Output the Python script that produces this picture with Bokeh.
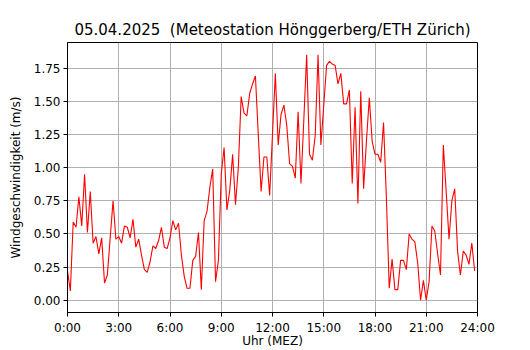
from bokeh.plotting import figure
from bokeh.models import FixedTicker, Range1d
from bokeh.embed import file_html
from bokeh.resources import INLINE

# 10-minute wind speed values (m/s), 00:00 .. 23:50
wind = [
    0.22, 0.07, 0.59, 0.55, 0.78, 0.56, 0.95, 0.51, 0.82, 0.43, 0.48, 0.35,
    0.47, 0.13, 0.19, 0.47, 0.75, 0.46, 0.48, 0.43, 0.56, 0.55, 0.47, 0.61,
    0.40, 0.46, 0.34, 0.23, 0.21, 0.29, 0.41, 0.39, 0.45, 0.55, 0.40, 0.39,
    0.47, 0.60, 0.53, 0.58, 0.34, 0.18, 0.09, 0.09, 0.30, 0.33, 0.51, 0.08,
    0.60, 0.67, 0.85, 0.99, 0.14, 0.30, 0.95, 1.15, 0.68, 0.83, 1.10, 0.72,
    1.00, 1.535, 1.41, 1.39, 1.56, 1.63, 1.69, 1.25, 0.82, 1.08, 1.08, 0.79,
    1.25, 1.71, 1.17, 1.40, 1.47, 1.32, 1.03, 1.01, 0.92, 1.42, 0.88, 1.36,
    1.85, 1.10, 1.055, 1.24, 1.85, 1.17, 1.47, 1.77, 1.80, 1.78, 1.77, 1.63,
    1.71, 1.48, 1.48, 1.585, 0.88, 1.455, 0.73, 1.575, 0.84, 1.20, 1.525, 1.20,
    1.10, 1.10, 1.04, 1.34, 0.77, 0.09, 0.31, 0.08, 0.08, 0.30, 0.30, 0.23,
    0.50, 0.46, 0.44, 0.28, 0.00, 0.15, 0.00, 0.14, 0.56, 0.52, 0.35, 0.19,
    1.17, 0.82, 0.46, 0.75, 0.84, 0.37, 0.19, 0.37, 0.34, 0.27, 0.43, 0.22,
]
hours = [i / 6 for i in range(len(wind))]

x_ticks = [0, 3, 6, 9, 12, 15, 18, 21, 24]
x_tick_labels = ["0:00", "3:00", "6:00", "9:00", "12:00", "15:00", "18:00", "21:00", "24:00"]
y_ticks = [0.0, 0.25, 0.5, 0.75, 1.0, 1.25, 1.5, 1.75]
y_tick_labels = ["0.00", "0.25", "0.50", "0.75", "1.00", "1.25", "1.50", "1.75"]

title_text = "05.04.2025\u00a0 (Meteostation Hönggerberg/ETH Zürich)"
x_label = "Uhr (MEZ)"
y_label = "Windgeschwindigkeit (m/s)"

FONT = "DejaVu Sans"

ymax = max(wind)
ymin = min(wind)
pad = (ymax - ymin) * 0.05

p = figure(
    width=530, height=350,
    output_backend="svg", toolbar_location=None,
    x_range=Range1d(0, 24), y_range=Range1d(ymin - pad, ymax + pad),
    min_border_left=67, min_border_right=53, min_border_top=42, min_border_bottom=37,
    title=title_text,
)

p.line(hours, wind, line_color="#ff0000", line_width=1.1)

p.title.text_font = FONT
p.title.text_font_size = "15px"
p.title.text_font_style = "normal"
p.title.text_color = "black"
p.title.align = "center"
p.title.standoff = 8

p.outline_line_color = "black"
p.outline_line_width = 1
p.outline_line_alpha = 1
p.background_fill_color = "white"
p.border_fill_color = "white"

for ax in (p.xaxis[0], p.yaxis[0]):
    ax.axis_line_color = "black"
    ax.major_tick_line_color = "black"
    ax.major_tick_out = 4
    ax.major_tick_in = 0
    ax.minor_tick_line_color = None
    ax.major_label_text_font = FONT
    ax.major_label_text_font_size = "12px"
    ax.major_label_text_color = "black"
    ax.axis_label_text_font = FONT
    ax.axis_label_text_font_size = "12px"
    ax.axis_label_text_font_style = "normal"
    ax.axis_label_text_color = "black"

p.xaxis[0].ticker = FixedTicker(ticks=x_ticks)
p.xaxis[0].major_label_overrides = {t: l for t, l in zip(x_ticks, x_tick_labels)}
p.xaxis[0].axis_label = x_label
p.xaxis[0].major_label_standoff = 4
p.xaxis[0].axis_label_standoff = -4

p.yaxis[0].ticker = FixedTicker(ticks=y_ticks)
p.yaxis[0].major_label_overrides = {t: l for t, l in zip(y_ticks, y_tick_labels)}
p.yaxis[0].axis_label = y_label
p.yaxis[0].major_label_standoff = 3
p.yaxis[0].axis_label_standoff = 8

p.xgrid.ticker = FixedTicker(ticks=x_ticks)
p.ygrid.ticker = FixedTicker(ticks=y_ticks)
for g in (p.xgrid[0], p.ygrid[0]):
    g.grid_line_color = "#b0b0b0"
    g.grid_line_width = 1

open("out.html", "w").write(file_html(p, INLINE))
